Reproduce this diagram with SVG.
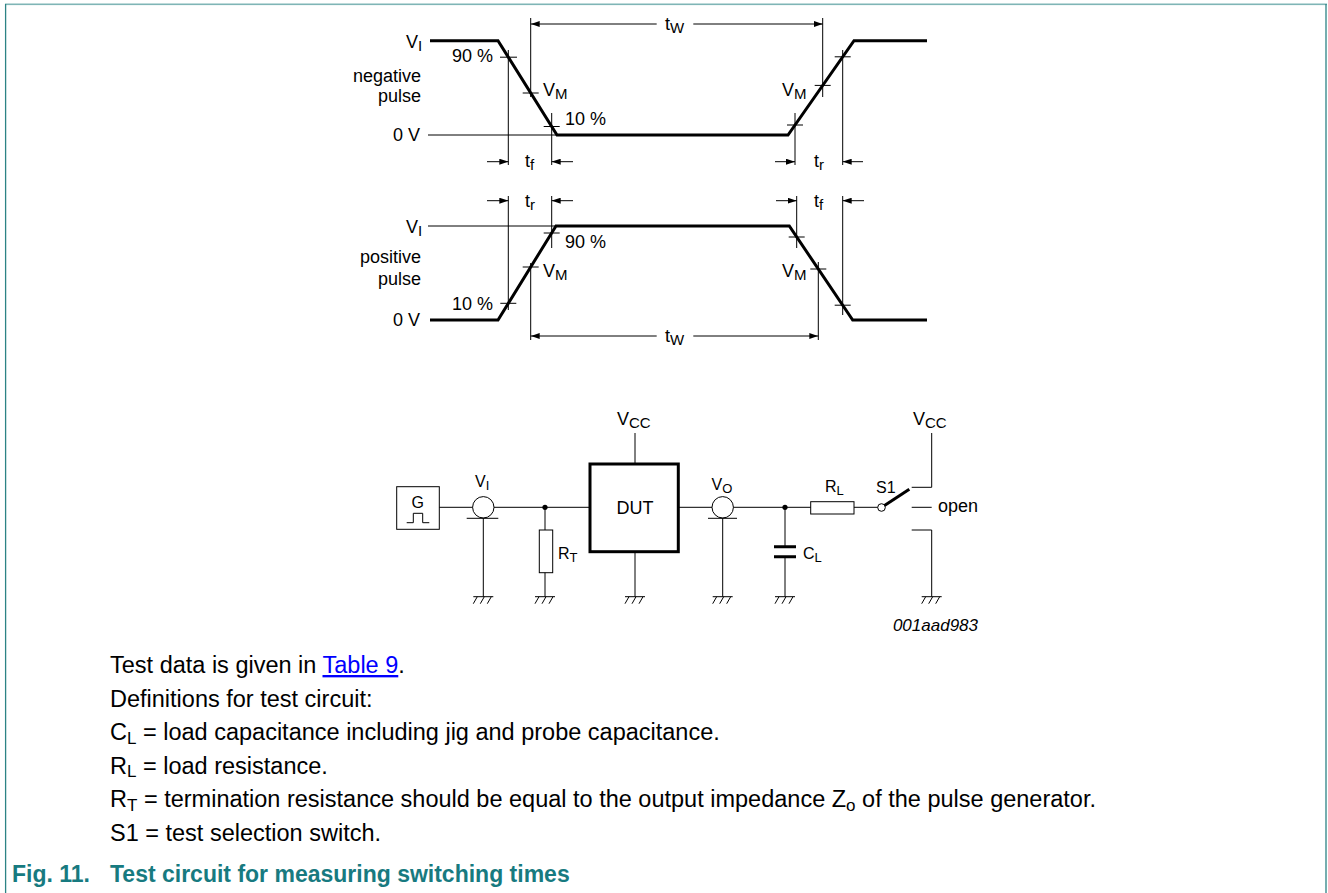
<svg xmlns="http://www.w3.org/2000/svg" width="1328" height="893" viewBox="0 0 1328 893">
<style>
text{font-family:"Liberation Sans",Arial,Helvetica,sans-serif;fill:#000}
.w{font-size:18px}
.s{font-size:15px}
.c{font-size:16px}
.cs{font-size:13px}
.body{font-size:23.5px}
.bs{font-size:17px}
.fig{font-size:23px;font-weight:bold;fill:#177a80}
.ln{stroke:#000;stroke-width:1;fill:none}
.tk{stroke:#000;stroke-width:3;fill:none}
.dim{stroke:#000;stroke-width:1;fill:none;marker-end:url(#ah)}
</style>
<defs>
<marker id="ah" markerUnits="userSpaceOnUse" markerWidth="9" markerHeight="6" viewBox="0 0 9 6" refX="9" refY="3" orient="auto"><path d="M0,0 L9,3 L0,6 z" fill="#000"/></marker>
<g id="gnd"><path d="M-10,0 H10 M-6,0 L-10,7 M1,0 L-3,7 M8,0 L4,7" stroke="#000" stroke-width="1" fill="none"/></g>
</defs>
<rect x="0" y="0" width="1328" height="893" fill="#fff"/>
<g id="frame">
<rect x="5" y="3.5" width="1322" height="1.6" fill="#7fb5b6"/>
<line x1="5.6" y1="4" x2="5.6" y2="893" stroke="#2c8385" stroke-width="1.3"/>
<line x1="1326" y1="4" x2="1326" y2="893" stroke="#2c8385" stroke-width="1.3"/>
</g>

<g id="negative-pulse">
<path class="tk" d="M430,40.7 H498 L557,135 H788 L854,40.7 H927"/>
<path class="ln" d="M428,135 H557"/>
<path class="ln" d="M508.3,50 V165 M530.7,18 V97 M551.7,113 V165 M795,113 V165 M822.7,18 V97 M842.7,50 V165"/>
<path class="ln" d="M500,57.2 H517 M522.7,93 H538.7 M543.7,126.5 H559.7 M787,125 H803 M814.7,85.4 H830.7 M834.7,56.8 H850.7"/>
<line class="dim" x1="656.7" y1="24" x2="530.7" y2="24"/>
<line class="dim" x1="693.3" y1="24" x2="822.7" y2="24"/>
<line class="dim" x1="487" y1="161.7" x2="508.3" y2="161.7"/>
<line class="dim" x1="573" y1="161.7" x2="551.7" y2="161.7"/>
<line class="dim" x1="775" y1="161.7" x2="795" y2="161.7"/>
<line class="dim" x1="863" y1="161.7" x2="842.7" y2="161.7"/>
<text class="w" x="406" y="48">V<tspan class="s" dy="3">I</tspan></text>
<text class="w" x="452" y="62">90 %</text>
<text class="w" x="421" y="82" text-anchor="end">negative</text>
<text class="w" x="421" y="102" text-anchor="end">pulse</text>
<text class="w" x="420" y="141" text-anchor="end">0 V</text>
<text class="w" x="543" y="96">V<tspan class="s" dy="3">M</tspan></text>
<text class="w" x="565" y="125">10 %</text>
<text class="w" x="782" y="96">V<tspan class="s" dy="3">M</tspan></text>
<text class="w" x="525" y="167">t<tspan class="s" dy="3">f</tspan></text>
<text class="w" x="814" y="167">t<tspan class="s" dy="3">r</tspan></text>
<text class="w" x="665" y="30">t<tspan class="s" dy="3">W</tspan></text>
</g>

<g id="positive-pulse">
<path class="tk" d="M430,320 H498 L556,226 H789.3 L852.7,320 H927"/>
<path class="ln" d="M428,226 H556"/>
<path class="ln" d="M508.3,196 V310 M551.7,196 V248 M530.7,263 V340 M796.7,196 V248 M818.3,262 V340 M842.7,196 V315"/>
<path class="ln" d="M500.3,303.3 H516.3 M522.7,267 H538.7 M543.7,233 H559.7 M788.7,237 H804.7 M810.3,269 H826.3 M834.7,305.2 H850.7"/>
<line class="dim" x1="656.7" y1="336" x2="530.7" y2="336"/>
<line class="dim" x1="693.3" y1="336" x2="818.3" y2="336"/>
<line class="dim" x1="487" y1="200.7" x2="508.3" y2="200.7"/>
<line class="dim" x1="573" y1="200.7" x2="551.7" y2="200.7"/>
<line class="dim" x1="776" y1="200.7" x2="796.7" y2="200.7"/>
<line class="dim" x1="864" y1="200.7" x2="842.7" y2="200.7"/>
<text class="w" x="406" y="233">V<tspan class="s" dy="3">I</tspan></text>
<text class="w" x="565" y="248">90 %</text>
<text class="w" x="421" y="263" text-anchor="end">positive</text>
<text class="w" x="421" y="285" text-anchor="end">pulse</text>
<text class="w" x="420" y="326" text-anchor="end">0 V</text>
<text class="w" x="543" y="277">V<tspan class="s" dy="3">M</tspan></text>
<text class="w" x="452" y="310">10 %</text>
<text class="w" x="782" y="277">V<tspan class="s" dy="3">M</tspan></text>
<text class="w" x="525" y="207">t<tspan class="s" dy="3">r</tspan></text>
<text class="w" x="814" y="207">t<tspan class="s" dy="3">f</tspan></text>
<text class="w" x="665" y="342">t<tspan class="s" dy="3">W</tspan></text>
</g>

<g id="connectors">
<path class="ln" d="M439.3,507.3 H472.6 M494,507.3 H590"/>
<path class="ln" d="M545,507.3 V530 M545,572.7 V596.7"/>
<path class="ln" d="M635,433 V464 M635,551.7 V596.7"/>
<path class="ln" d="M678.3,507.3 H712 M733.4,507.3 H810.7"/>
<path class="ln" d="M483.3,518.3 V596.7 M722.7,518.3 V596.7"/>
<path class="ln" d="M785,507.3 V546.7 M785,556.7 V596.7"/>
<path class="ln" d="M854,507.3 H877.7"/>
<path class="ln" d="M911.7,487.3 H931.7 V433"/>
<path class="ln" d="M911.7,530 H931.7 V596.7"/>
</g>

<g id="generator">
<rect class="ln" x="396.7" y="486.7" width="42.6" height="42.6" stroke="#333"/>
<text class="c" x="417.7" y="508" text-anchor="middle">G</text>
<polyline class="ln" points="406.7,522.7 413.3,522.7 413.3,513.3 422.7,513.3 422.7,522.7 429.3,522.7"/>
</g>
<g id="probe-vi">
<circle class="ln" cx="483.3" cy="507.3" r="10.7"/>
<line class="ln" x1="466.7" y1="518.3" x2="498.3" y2="518.3"/>
<text class="c" x="475" y="487">V<tspan class="cs" dy="2.5">I</tspan></text>
</g>
<g id="junction-in"><circle cx="545" cy="507.3" r="2.6" fill="#000"/></g>
<g id="rt">
<rect class="ln" x="539.3" y="530" width="13.4" height="42.7"/>
<text class="c" x="558" y="559">R<tspan class="cs" dy="3">T</tspan></text>
</g>
<g id="dut">
<rect x="590" y="464" width="88.3" height="87.7" fill="none" stroke="#000" stroke-width="3"/>
<text class="w" x="635" y="514" text-anchor="middle">DUT</text>
<text class="w" x="617" y="425">V<tspan class="s" dy="3">CC</tspan></text>
</g>
<g id="probe-vo">
<circle class="ln" cx="722.7" cy="507.3" r="10.7"/>
<line class="ln" x1="708" y1="518.3" x2="737" y2="518.3"/>
<text class="c" x="711.5" y="490">V<tspan class="cs" dy="3">O</tspan></text>
</g>
<g id="junction-out"><circle cx="785" cy="507.3" r="2.6" fill="#000"/></g>
<g id="cl">
<path class="tk" d="M774,546.7 H796 M774,556.7 H796"/>
<text class="c" x="803" y="559">C<tspan class="cs" dy="3">L</tspan></text>
</g>
<g id="rl">
<rect class="ln" x="810.7" y="501.7" width="43.3" height="12.3"/>
<text class="c" x="825" y="492">R<tspan class="cs" dy="3">L</tspan></text>
</g>
<g id="s1">
<circle class="ln" cx="881.5" cy="507.5" r="3.8"/>
<line x1="884.5" y1="505.5" x2="909.3" y2="489.3" stroke="#000" stroke-width="3"/>
<line class="ln" x1="911.7" y1="507.3" x2="931.7" y2="507.3"/>
<text class="c" x="876" y="493">S1</text>
<text class="w" x="938" y="512">open</text>
<text class="w" x="913" y="425">V<tspan class="s" dy="3">CC</tspan></text>
</g>
<g id="grounds">
<use href="#gnd" x="483.3" y="596.7"/>
<use href="#gnd" x="545" y="596.7"/>
<use href="#gnd" x="635" y="596.7"/>
<use href="#gnd" x="722.7" y="596.7"/>
<use href="#gnd" x="785" y="596.7"/>
<use href="#gnd" x="931.7" y="596.7"/>
</g>
<text x="978" y="631" text-anchor="end" font-size="17" font-style="italic">001aad983</text>

<g id="notes">
<text class="body" x="110" y="673">Test data is given in <tspan fill="#0000ff" text-decoration="underline">Table 9</tspan>.</text>
<text class="body" x="110" y="706.5">Definitions for test circuit:</text>
<text class="body" x="110" y="740">C<tspan class="bs" dy="3.5">L</tspan><tspan dy="-3.5"> = load capacitance including jig and probe capacitance.</tspan></text>
<text class="body" x="110" y="773.5">R<tspan class="bs" dy="3.5">L</tspan><tspan dy="-3.5"> = load resistance.</tspan></text>
<text class="body" x="110" y="807">R<tspan class="bs" dy="3.5">T</tspan><tspan dy="-3.5"> = termination resistance should be equal to the output impedance Z</tspan><tspan class="bs" dy="3.5">o</tspan><tspan dy="-3.5"> of the pulse generator.</tspan></text>
<text class="body" x="110" y="840.5">S1 = test selection switch.</text>
<text class="fig" x="12" y="881.5">Fig. 11.</text>
<text class="fig" x="110" y="881.5">Test circuit for measuring switching times</text>
</g>
</svg>
